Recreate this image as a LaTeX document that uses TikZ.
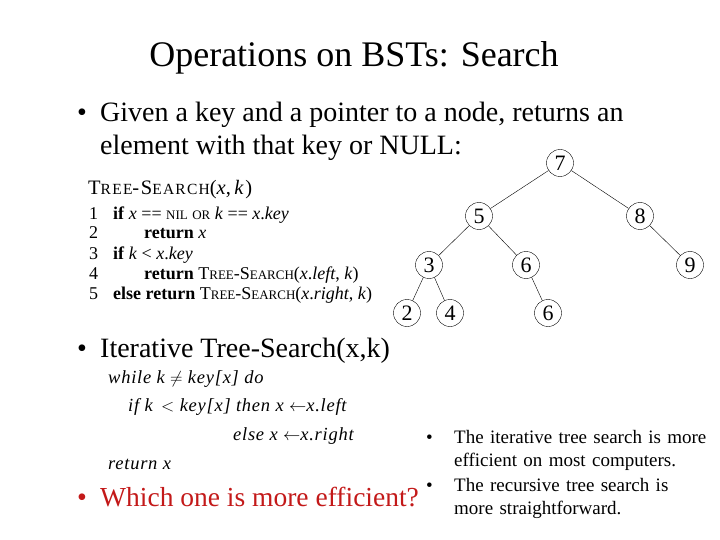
\documentclass[tikz,border=0pt]{standalone}
\usepackage{fontspec}
\setmainfont{Liberation Serif}
\usetikzlibrary{positioning}
\definecolor{askred}{RGB}{195,25,25}
\newcommand{\capsword}[2]{#1{\fontsize{13}{13}\selectfont #2}}
\tikzset{
  bstnode/.style={circle, draw, thin, minimum size=27pt, inner sep=0pt, font=\fontsize{22}{22}\selectfont},
  bigtext/.style={anchor=base west, inner sep=0pt, font=\fontsize{28}{28}\selectfont},
  codeline/.style={anchor=base west, inner sep=0pt, font=\fontsize{18}{18}\selectfont},
  iterline/.style={anchor=base west, inner sep=0pt, font=\fontsize{18.5}{18.5}\selectfont\itshape\addfontfeature{LetterSpace=4}},
  notetext/.style={anchor=base west, inner sep=0pt, font=\fontsize{19}{23.5}\selectfont}
}
\begin{document}
\begin{tikzpicture}[x=1pt,y=-1pt]
  \useasboundingbox (0,0) rectangle (720,540);
  \node[anchor=base, inner sep=0pt, font=\fontsize{36}{36}\selectfont] (title) at (354,67) {Operations on BSTs: Search};
  % first bullet
  \node[bigtext] (dot1) at (77,122) {\textbullet};
  \node[bigtext] (given1) at (100,122) {Given a key and a pointer to a node, returns an};
  \node[bigtext] (given2) at (100,155) {element with that key or NULL:};
  % recursive version
  \node[codeline, font=\fontsize{20.5}{20.5}\selectfont\addfontfeature{LetterSpace=8}] (head) at (88,195)
    {T{\fontsize{15.5}{15.5}\selectfont REE}-S{\fontsize{15.5}{15.5}\selectfont EARCH}(\textit{x},\,\textit{k})};
  \foreach \n/\y/\dx/\txt in {
    1/219/0/{\textbf{if} \textit{x} == \capsword{}{NIL} \capsword{}{OR} \textit{k} == \textit{x}.\textit{key}},
    2/239/31/{\textbf{return} \textit{x}},
    3/259/0/{\textbf{if} \textit{k} < \textit{x}.\textit{key}},
    4/279/31/{\textbf{return} \capsword{T}{REE}-\capsword{S}{EARCH}(\textit{x}.\textit{left}, \textit{k})},
    5/299/0/{\textbf{else return} \capsword{T}{REE}-\capsword{S}{EARCH}(\textit{x}.\textit{right}, \textit{k})}}{%
    \node[codeline] (num\n) at (89,\y) {\n};
    \node[codeline] (line\n) at ({113+\dx},\y) {\txt};
  }
  % tree
  \foreach \name/\val/\x/\y in {n7/7/560/163, n5/5/479/216, n8/8/640/216,
    n3/3/429/265, n6/6/526/265, n9/9/690/265, n2/2/407/313, n4/4/450/313, n6b/6/548/313}
    \node[bstnode] (\name) at (\x,\y) {\val};
  \foreach \a/\b in {n7/n5, n7/n8, n5/n3, n5/n6, n8/n9, n3/n2, n3/n4, n6/n6b}
    \draw[thin] (\a) -- (\b);
  % iterative version
  \node[bigtext] (dot2) at (77,357) {\textbullet};
  \node[bigtext] (iter) at (100,357) {Iterative Tree-Search(x,k)};
  \node[iterline] (while) at (108,383) {while k $\neq$ key[x] do};
  \node[iterline] (ifk) at (128,411) {if k \,$<$ key[x] then x $\leftarrow$x.left};
  \node[iterline] (elsex) at (233,440) {else x $\leftarrow$x.right};
  \node[iterline] (retx) at (108,469) {return x};
  % question
  \node[bigtext, text=askred] (dot3) at (77,506) {\textbullet};
  \node[bigtext, text=askred, font=\fontsize{27.5}{28}\selectfont] (which) at (100,506) {Which one is more efficient?};
  % remarks
  \node[notetext] (dot4) at (426,443) {\textbullet};
  \node[notetext, align=left, text width=270pt] (iterbetter) at (454,443) {The iterative tree search is more\\efficient on most computers.};
  \node[notetext] (dot5) at (426,491) {\textbullet};
  \node[notetext, align=left, text width=270pt] (recclear) at (454,491) {The recursive tree search is\\more straightforward.};
\end{tikzpicture}
\end{document}
